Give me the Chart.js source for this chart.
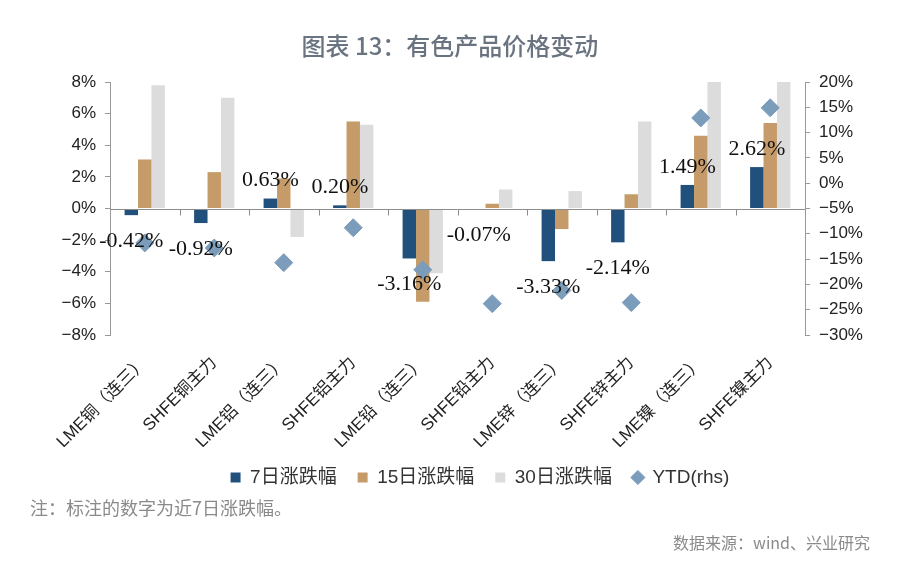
<!DOCTYPE html>
<html>
<head>
<meta charset="utf-8">
<script src="https://cdn.jsdelivr.net/npm/chart.js@4.4.0/dist/chart.umd.min.js"></script>
<style>
  html, body { margin: 0; padding: 0; background: #fff; }
  #wrap { position: relative; width: 900px; height: 562px; }
  #title {
    position: absolute; left: 0; top: 27px; width: 900px; text-align: center;
    font: 500 24px 'Noto Sans CJK SC'; color: #6a7480;
  }
  #note {
    position: absolute; left: 30px; top: 494px;
    font: 18px 'Noto Sans CJK SC'; color: #8a8a8a;
  }
  #source {
    position: absolute; right: 30px; top: 530px;
    font: 16px 'Noto Sans CJK SC'; color: #8a8a8a;
  }
  canvas { position: absolute; left: 0; top: 0; }
</style>
</head>
<body>
<div id="wrap">
  <canvas id="chart" width="900" height="562"></canvas>
  <div id="title">图表 13：有色产品价格变动</div>
  <div id="note">注：标注的数字为近7日涨跌幅。</div>
  <div id="source">数据来源：wind、兴业研究</div>
</div>
<script>
/* ── Data ──────────────────────────────────────────────────── */
const categories = ['LME铜（连三）', 'SHFE铜主力', 'LME铝（连三）', 'SHFE铝主力', 'LME铅（连三）',
                    'SHFE铅主力', 'LME锌（连三）', 'SHFE锌主力', 'LME镍（连三）', 'SHFE镍主力'];
const chg7  = [-0.42, -0.92, 0.63, 0.20, -3.16, -0.07, -3.33, -2.14, 1.49, 2.62];
const chg15 = [3.1, 2.3, 1.9, 5.5, -5.9, 0.3, -1.3, 0.9, 4.6, 5.4];
const chg30 = [7.8, 7.0, -1.8, 5.3, -4.1, 1.2, 1.1, 5.5, 8.0, 8.0];
const ytd   = [-11.8, -12.8, -15.7, -8.8, -17.1, -23.8, -21.2, -23.6, 12.9, 14.9];

const leftRange  = { min: -8, max: 8, step: 2 };
const rightRange = { min: -30, max: 20, step: 5 };

const seriesNames = ['7日涨跌幅', '15日涨跌幅', '30日涨跌幅', 'YTD(rhs)'];

/* ── Helpers ───────────────────────────────────────────────── */
const pct = v => (v < 0 ? '\u2212' + Math.abs(v) : v) + '%';
const tickFont = { family: "'Liberation Sans', 'Noto Sans CJK SC'", size: 17 };

/* zero axis line with short ticks between categories */
const zeroAxis = {
  id: 'zeroAxis',
  afterDatasetsDraw(chart) {
    const { ctx, chartArea, scales: { x, y } } = chart;
    const y0 = Math.round(y.getPixelForValue(0)) + 0.5;
    ctx.save();
    ctx.strokeStyle = '#8c8c8c';
    ctx.lineWidth = 1;
    ctx.beginPath();
    ctx.moveTo(chartArea.left, y0);
    ctx.lineTo(chartArea.right, y0);
    for (let i = 1; i < categories.length; i++) {
      const bx = Math.round((x.getPixelForValue(i - 1) + x.getPixelForValue(i)) / 2) + 0.5;
      ctx.moveTo(bx, y0);
      ctx.lineTo(bx, y0 + 6);
    }
    ctx.stroke();
    ctx.restore();
  }
};

/* 7-day change labels, centred on the dark bar */
const barLabels = {
  id: 'barLabels',
  afterDatasetsDraw(chart) {
    const { ctx } = chart;
    const meta = chart.getDatasetMeta(0);
    ctx.save();
    ctx.font = '22px "Liberation Serif"';
    ctx.fillStyle = '#111';
    ctx.textAlign = 'center';
    ctx.textBaseline = 'middle';
    meta.data.forEach((bar, i) => {
      const v = chg7[i];
      const ly = v >= 0 ? bar.y - 18 : bar.y + 26;
      ctx.fillText(v.toFixed(2) + '%', bar.x, ly);
    });
    ctx.restore();
  }
};

new Chart(document.getElementById('chart'), {
  data: {
    labels: categories,
    datasets: [
      { type: 'bar', label: seriesNames[0], data: chg7,  backgroundColor: '#22507c', pointStyle: 'rect', yAxisID: 'y' },
      { type: 'bar', label: seriesNames[1], data: chg15, backgroundColor: '#c59c69', pointStyle: 'rect', yAxisID: 'y' },
      { type: 'bar', label: seriesNames[2], data: chg30, backgroundColor: '#dcdcdc', pointStyle: 'rect', yAxisID: 'y' },
      {
        type: 'line', label: seriesNames[3], data: ytd, yAxisID: 'y1', order: -1,
        showLine: false, pointStyle: 'rectRot', pointRadius: 9, pointHoverRadius: 9,
        backgroundColor: '#7b9cba', borderColor: '#7b9cba', borderWidth: 1
      }
    ]
  },
  options: {
    responsive: false,
    animation: false,
    categoryPercentage: 0.58,
    barPercentage: 1.0,
    layout: { padding: { top: 82, bottom: 65, left: 60, right: 0 } },
    plugins: {
      tooltip: { enabled: false },
      legend: {
        position: 'bottom',
        labels: {
          usePointStyle: true, boxWidth: 10, boxHeight: 10, padding: 21,
          sort: (a, b) => a.datasetIndex - b.datasetIndex,
          color: '#333', font: { family: "'Liberation Sans', 'Noto Sans CJK SC'", size: 19 }
        }
      }
    },
    scales: {
      x: {
        grid: { display: false },
        border: { display: false },
        ticks: {
          minRotation: 45, maxRotation: 45, padding: 10, color: '#222',
          font: tickFont, autoSkip: false
        },
        afterFit(scale) { scale.height = 112; }
      },
      y: {
        position: 'left',
        min: leftRange.min, max: leftRange.max,
        grid: { drawOnChartArea: false, drawTicks: true, tickLength: 5, color: '#999' },
        border: { display: true, color: '#999' },
        ticks: { stepSize: leftRange.step, padding: 9, color: '#222', font: tickFont, callback: pct },
        afterFit(scale) { scale.width = 50; }
      },
      y1: {
        position: 'right',
        min: rightRange.min, max: rightRange.max,
        grid: { drawOnChartArea: false, drawTicks: true, tickLength: 5, color: '#999' },
        border: { display: true, color: '#999' },
        ticks: { stepSize: rightRange.step, padding: 9, color: '#222', font: tickFont, callback: pct },
        afterFit(scale) { scale.width = 95; }
      }
    }
  },
  plugins: [zeroAxis, barLabels]
});
</script>
</body>
</html>
